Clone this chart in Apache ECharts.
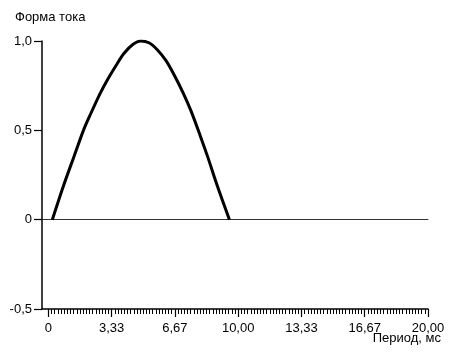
<!DOCTYPE html>
<html><head><meta charset="utf-8">
<script src="https://cdn.jsdelivr.net/npm/echarts@6/dist/echarts.min.js"></script>
<style>html,body{margin:0;padding:0;background:#fff}#c{width:454px;height:356px}</style>
</head><body><div id="c"></div>
<script>
// Data (time in ms, current form relative)
const timeMs = [0.21, 0.80, 1.34, 1.85, 2.22, 2.70, 3.10, 3.55, 3.98, 4.45, 4.87, 5.30, 5.75, 6.20, 6.63, 7.10, 7.51, 8.00, 8.40, 8.90, 9.54];
const current = [0.00, 0.19, 0.35, 0.50, 0.59, 0.70, 0.78, 0.86, 0.93, 0.98, 1.00, 0.99, 0.95, 0.89, 0.81, 0.71, 0.61, 0.47, 0.35, 0.19, 0.00];
const xTickValues = [0, 10/3, 20/3, 10, 40/3, 50/3, 20];
const xTickLabels = ['0', '3,33', '6,67', '10,00', '13,33', '16,67', '20,00'];
const yTickLabels = {'1': '1,0', '0.5': '0,5', '0': '0', '-0.5': '-0,5'};
const minorStep = 1/6;

const minorTicks = [];
for (let i = 0; i <= 120; i++) minorTicks.push(i * minorStep);

const font = 'Liberation Sans, Arial, sans-serif';
const chart = echarts.init(document.getElementById('c'), null, {renderer: 'canvas'});
const xBase = {type: 'value', min: -1/3, max: 20, gridIndex: 0};
chart.setOption({
  animation: false,
  backgroundColor: '#fff',
  grid: {left: 42, right: 26, top: 41, bottom: 47},
  graphic: [
    {type: 'text', left: 15, top: 11, style: {text: 'Форма тока', font: '13px ' + font, fill: '#000'}},
    {type: 'text', right: 13, top: 332, style: {text: 'Период, мс', font: '13px ' + font, fill: '#000'}}
  ],
  xAxis: [
    Object.assign({}, xBase, {
      position: 'bottom',
      axisLine: {onZero: false, lineStyle: {color: '#000', width: 1.5}},
      axisTick: {show: true, length: 8, customValues: xTickValues, lineStyle: {color: '#000', width: 1.2}},
      axisLabel: {customValues: xTickValues, margin: 13, color: '#000', fontSize: 13, fontFamily: font,
        formatter: v => { const i = xTickValues.findIndex(t => Math.abs(t - v) < 1e-6); return i >= 0 ? xTickLabels[i] : ''; }},
      splitLine: {show: false}
    }),
    Object.assign({}, xBase, {
      position: 'bottom',
      axisLine: {show: false, onZero: false},
      axisTick: {show: true, length: 5, customValues: minorTicks, lineStyle: {color: '#000', width: 1}},
      axisLabel: {show: false},
      splitLine: {show: false}
    }),
    Object.assign({}, xBase, {
      axisLine: {show: true, onZero: true, lineStyle: {color: '#333', width: 1}},
      axisTick: {show: false},
      axisLabel: {show: false},
      splitLine: {show: false}
    })
  ],
  yAxis: {
    type: 'value', min: -0.5, max: 1, interval: 0.5,
    axisLine: {show: true, onZero: false, lineStyle: {color: '#000', width: 1.5}},
    axisTick: {show: true, length: 8, lineStyle: {color: '#000', width: 1.2}},
    axisLabel: {margin: 10, color: '#000', fontSize: 13, fontFamily: font,
      formatter: v => yTickLabels[String(v)] !== undefined ? yTickLabels[String(v)] : ''},
    splitLine: {show: false}
  },
  series: [{
    type: 'line', xAxisIndex: 0, smooth: 0.3, symbol: 'none',
    data: timeMs.map((t, i) => [t, current[i]]),
    lineStyle: {color: '#000', width: 3}
  }]
});
</script></body></html>
